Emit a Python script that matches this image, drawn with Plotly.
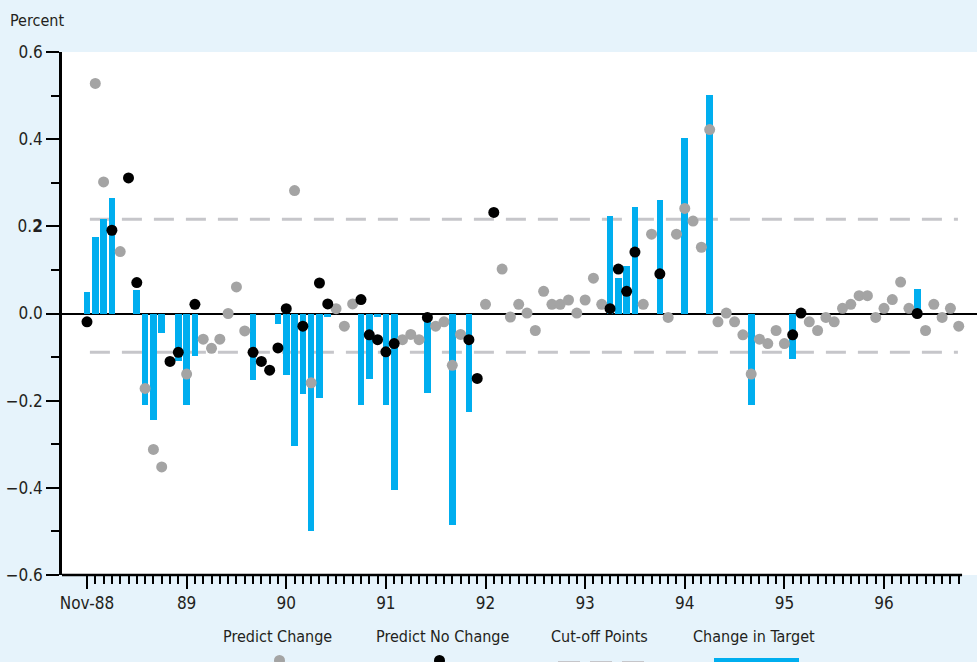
import plotly.graph_objects as go

# ---------------- data (month index: 0 = Nov-88) ----------------
bar_months = [0, 1, 2, 3, 6, 7, 8, 9, 11, 12, 13, 20, 23, 24, 25, 26, 27, 28, 29,
              33, 34, 35, 36, 37, 41, 44, 46, 63, 64, 65, 66, 69, 72, 75, 80, 85, 100]
bar_values = [0.05, 0.175, 0.217, 0.265, 0.055, -0.21, -0.245, -0.045, -0.11, -0.21, -0.097,
              -0.153, -0.025, -0.142, -0.305, -0.185, -0.5, -0.194, -0.008,
              -0.21, -0.15, -0.008, -0.21, -0.405, -0.182, -0.485, -0.226,
              0.223, 0.081, 0.108, 0.244, 0.26, 0.402, 0.501, -0.209, -0.104, 0.056]

change_months = [1, 2, 4, 7, 8, 9, 12, 14, 15, 16, 17, 18, 19, 25, 27, 30, 31, 32,
                 38, 39, 40, 42, 43, 44, 45, 48, 50, 51, 52, 53, 54, 55, 56, 57, 58,
                 59, 60, 61, 62, 67, 68, 70, 71, 72, 73, 74, 75, 76, 77, 78, 79, 80,
                 81, 82, 83, 84, 87, 88, 89, 90, 91, 92, 93, 94, 95, 96, 97, 98, 99,
                 101, 102, 103, 104, 105]
change_values = [0.528, 0.302, 0.142, -0.172, -0.312, -0.352, -0.139, -0.059, -0.08, -0.059,
                 0.0, 0.061, -0.04, 0.282, -0.159, 0.011, -0.029, 0.022,
                 -0.06, -0.048, -0.06, -0.029, -0.019, -0.119, -0.048, 0.021, 0.102, -0.008,
                 0.021, 0.001, -0.039, 0.051, 0.021, 0.021, 0.031,
                 0.001, 0.031, 0.081, 0.021, 0.021, 0.182, -0.009, 0.182, 0.241, 0.212, 0.152,
                 0.422, -0.019, 0.001, -0.019, -0.049, -0.139,
                 -0.059, -0.069, -0.039, -0.069, -0.019, -0.039, -0.009, -0.019, 0.012, 0.021,
                 0.041, 0.041, -0.009, 0.012, 0.032, 0.072, 0.012,
                 -0.039, 0.021, -0.009, 0.012, -0.029]

nochange_months = [0, 3, 5, 6, 10, 11, 13, 20, 21, 22, 23, 24, 26, 28, 29, 33, 34, 35, 36,
                   37, 41, 46, 47, 49, 63, 64, 65, 66, 69, 85, 86, 100]
nochange_values = [-0.019, 0.191, 0.311, 0.071, -0.11, -0.089, 0.021, -0.089, -0.11, -0.13,
                   -0.079, 0.011, -0.029, 0.07, 0.022, 0.032, -0.049, -0.06, -0.088,
                   -0.069, -0.009, -0.06, -0.149, 0.232, 0.011, 0.102, 0.051, 0.141, 0.091,
                   -0.049, 0.001, 0.0]

cutoff_upper = 0.216
cutoff_lower = -0.089

major_tick_months = [0, 12, 24, 36, 48, 60, 72, 84, 96]
major_tick_labels = ["Nov-88", "89", "90", "91", "92", "93", "94", "95", "96"]
minor_tick_months = [m for m in range(1, 106) if m % 12 != 0]

y_tick_vals = [-0.6, -0.4, -0.2, 0.0, 0.2, 0.4, 0.6]
y_tick_text = ["\u22120.6", "\u22120.4", "\u22120.2", "0.0", "0.<b>2</b>", "0.4", "0.6"]
y_minor_vals = [-0.5, -0.3, -0.1, 0.1, 0.3, 0.5]

legend_labels = ["Predict Change", "Predict No Change", "Cut-off Points", "Change in Target"]

# ---------------- styling ----------------
W, H = 977, 662
ML, MR, MT, MB = 62, 0, 52, 87
X_MIN, X_MAX = -3.01, 107.2
AXIS_END = 105.4
BG = "#e6f3fb"
CYAN = "#00aeef"
GRAY = "#a4a4a4"
DASH_GRAY = "#c6c6ca"
TEXT = "#231f20"
FONT = "DejaVu Sans Condensed, Liberation Sans Narrow, sans-serif"

PW = W - ML - MR
PH = H - MT - MB


def px_x(px):
    return (px - ML) / PW


def px_y(py):
    return (H - MB - py) / PH


fig = go.Figure()

fig.add_trace(go.Bar(x=bar_months, y=bar_values, width=0.8,
                     marker=dict(color=CYAN, line=dict(width=0)),
                     name=legend_labels[3], showlegend=False))
fig.add_trace(go.Scatter(x=change_months, y=change_values, mode="markers",
                         marker=dict(color=GRAY, size=11, line=dict(width=0)),
                         name=legend_labels[0], showlegend=False))
fig.add_trace(go.Scatter(x=nochange_months, y=nochange_values, mode="markers",
                         marker=dict(color="#000000", size=11, line=dict(width=0)),
                         name=legend_labels[1], showlegend=False))

shapes = []
for yv in (cutoff_upper, cutoff_lower):
    shapes.append(dict(type="line", xref="x", yref="y", x0=0.35, x1=104.9, y0=yv, y1=yv,
                       line=dict(color=DASH_GRAY, width=3, dash="20px,12px"), layer="below"))

# x-axis line (stops short of the right edge as in the original)
shapes.append(dict(type="line", xref="paper", yref="paper", x0=0,
                   x1=(AXIS_END - X_MIN) / (X_MAX - X_MIN), y0=0, y1=0,
                   line=dict(color="#000000", width=2.5)))

# legend symbols (below the labels, partly cut by the page edge)
shapes.append(dict(type="circle", xref="paper", yref="paper",
                   x0=px_x(274), x1=px_x(285), y0=px_y(666), y1=px_y(655),
                   fillcolor=GRAY, line=dict(width=0)))
shapes.append(dict(type="circle", xref="paper", yref="paper",
                   x0=px_x(434), x1=px_x(445), y0=px_y(666), y1=px_y(655),
                   fillcolor="#000000", line=dict(width=0)))
shapes.append(dict(type="line", xref="paper", yref="paper",
                   x0=px_x(558), x1=px_x(644), y0=px_y(663), y1=px_y(663),
                   line=dict(color=DASH_GRAY, width=4, dash="22px,10px")))
shapes.append(dict(type="rect", xref="paper", yref="paper",
                   x0=px_x(714), x1=px_x(799), y0=px_y(668), y1=px_y(658),
                   fillcolor=CYAN, line=dict(width=0)))

annotations = [dict(text="Percent", xref="paper", yref="paper", x=px_x(8), y=px_y(20),
                    xanchor="left", yanchor="middle", showarrow=False,
                    font=dict(family=FONT, size=16, color=TEXT))]
for label, cx in zip(legend_labels, [277, 442, 599, 754]):
    annotations.append(dict(text=label, xref="paper", yref="paper", x=px_x(cx), y=px_y(636),
                            xanchor="center", yanchor="middle", showarrow=False,
                            font=dict(family=FONT, size=16, color=TEXT)))

fig.update_layout(
    width=W, height=H,
    margin=dict(l=ML, r=MR, t=MT, b=MB, pad=0),
    paper_bgcolor=BG, plot_bgcolor="#ffffff",
    font=dict(family=FONT, size=17, color=TEXT),
    showlegend=False,
    bargap=0,
    shapes=shapes,
    annotations=annotations,
    xaxis=dict(range=[X_MIN, X_MAX], showgrid=False, zeroline=False, showline=False,
               tickmode="array", tickvals=major_tick_months, ticktext=major_tick_labels,
               ticks="outside", ticklen=13, tickwidth=2, tickcolor="#000000",
               tickfont=dict(family=FONT, size=17, color=TEXT),
               minor=dict(tickmode="array", tickvals=minor_tick_months, ticks="outside",
                          ticklen=8, tickwidth=2, tickcolor="#000000", showgrid=False)),
    yaxis=dict(range=[-0.6, 0.6], showgrid=False, zeroline=True, zerolinecolor="#000000",
               zerolinewidth=2, showline=True, linecolor="#000000", linewidth=2.5,
               tickmode="array", tickvals=y_tick_vals, ticktext=y_tick_text,
               ticks="outside", ticklen=13, tickwidth=2, tickcolor="#000000",
               tickfont=dict(family=FONT, size=17, color=TEXT),
               minor=dict(tickmode="array", tickvals=y_minor_vals, ticks="outside",
                          ticklen=8, tickwidth=2, tickcolor="#000000", showgrid=False)),
)

fig.write_html("out.html", config={"displayModeBar": False},
               post_script="document.body.style.margin='0';document.body.style.overflow='hidden';")
